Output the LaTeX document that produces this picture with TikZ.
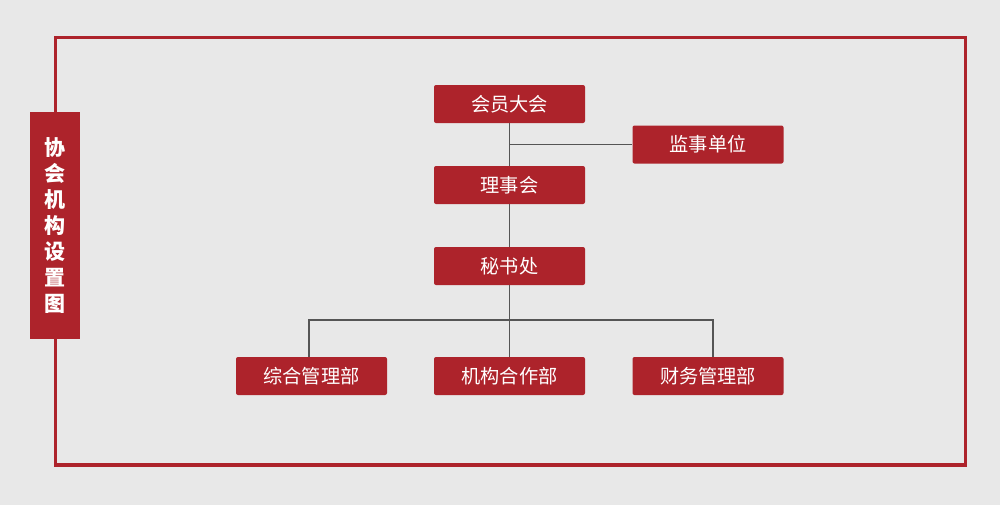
\documentclass[tikz,border=0pt]{standalone}
\usepackage{fontspec}
\newfontfamily\cjk{Noto Sans CJK SC}
\definecolor{bg}{HTML}{E8E8E8}
\definecolor{dred}{HTML}{AD232B}
\definecolor{lgray}{HTML}{555555}
\begin{document}
\begin{tikzpicture}[x=0.5pt,y=-0.5pt,
  box/.style={fill=dred, rounded corners=1pt, minimum width=75.5pt, minimum height=19pt, inner sep=0pt, text=white, font=\cjk\fontsize{9.6}{11}\selectfont},
  conn/.style={draw=lgray, line width=0.9pt}]
\fill[bg] (0,0) rectangle (1000,505);
\useasboundingbox (0,0) rectangle (1000,505);
\draw[dred, line width=1.6pt] (55.5,37.5) rectangle (965.5,465);
\node[fill=dred, minimum width=25pt, minimum height=113.5pt, inner sep=0pt, text=white, font=\cjk\bfseries\fontsize{10.5}{13}\selectfont, align=center] (title) at (55,225.5) {协\\会\\机\\构\\设\\置\\图};
\node[box] (hy) at (509.5,104) {会员大会};
\node[box] (js) at (708,144.5) {监事单位};
\node[box] (lsh) at (509.5,185) {理事会};
\node[box] (msc) at (509.5,266) {秘书处};
\node[box] (zh) at (311.5,376) {综合管理部};
\node[box] (jg) at (509.5,376) {机构合作部};
\node[box] (cw) at (708,376) {财务管理部};
\draw[conn] (hy.south) -- (lsh.north);
\draw[conn] (js.west) -- (js.west -| hy.south);
\draw[conn] (lsh.south) -- (msc.north);
\draw[conn] (msc.south) -- (jg.north);
\coordinate (hl) at (309,320);
\coordinate (hr) at (713,320);
\draw[conn] (hl |- zh.north) -- (hl) -- (hr) -- (hr |- cw.north);
\end{tikzpicture}
\end{document}
